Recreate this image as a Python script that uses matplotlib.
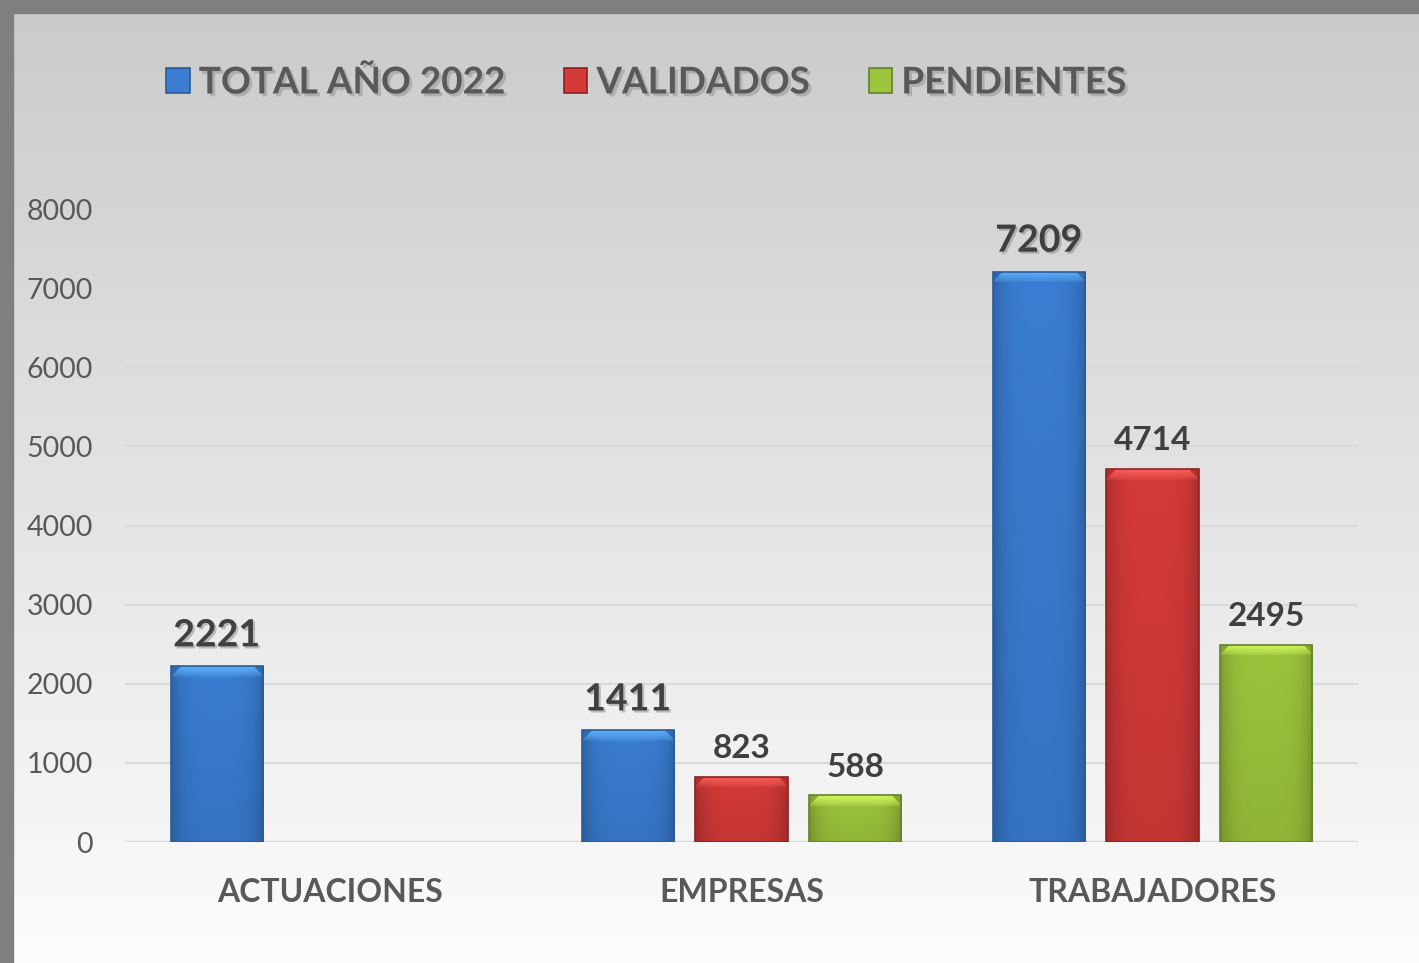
import numpy as np
import matplotlib.pyplot as plt
import matplotlib.patheffects as pe
from matplotlib.patches import Rectangle
from matplotlib.colors import to_rgb

# data
categories = ['ACTUACIONES', 'EMPRESAS', 'TRABAJADORES']
series_names = ['TOTAL AÑO 2022', 'VALIDADOS', 'PENDIENTES']
total_2022 = [2221, 1411, 7209]
validados = [np.nan, 823, 4714]
pendientes = [np.nan, 588, 2495]
y_ticks = [0, 1000, 2000, 3000, 4000, 5000, 6000, 7000, 8000]

series = [total_2022, validados, pendientes]
colors = ['#3A7DD2', '#D43A38', '#9CC43C']
edges = ['#2A5C96', '#8E2220', '#62822A']

plt.rcParams['font.family'] = ['Lato', 'DejaVu Sans']

fig = plt.figure(figsize=(14.19, 9.63), dpi=100)

# background: vertical grey gradient plus dark top/left border
bg = fig.add_axes([0, 0, 1, 1], zorder=-10)
grad = np.linspace(0.79, 0.985, 256).reshape(-1, 1)
bg.imshow(np.repeat(grad, 2, axis=1), cmap='gray', vmin=0, vmax=1,
          aspect='auto', extent=[0, 1, 1, 0])
bg.add_patch(Rectangle((0, 0), 1, 13 / 963, color='#7F7F7F'))
bg.add_patch(Rectangle((0, 0), 13 / 1419, 1, color='#7F7F7F'))
bg.set_xlim(0, 1)
bg.set_ylim(1, 0)
bg.axis('off')

ax = fig.add_axes([125 / 1419, 1 - 842 / 963, 1233 / 1419, 633 / 963])
ax.patch.set_visible(False)

x = np.arange(len(categories))
width = 0.224
step = 0.277


def shade_bar(ax, patch, color):
    x0, y0 = patch.get_x(), patch.get_y()
    w, h = patch.get_width(), patch.get_height()
    if not np.isfinite(h) or h <= 0:
        return
    hp = max(int(h / 8000 * 633), 2)
    wp = 92
    base = np.array(to_rgb(color))
    xs = np.linspace(-1, 1, wp)
    horiz = 1.0 - 0.2 * np.abs(xs) ** 4
    vert = np.linspace(1.0, 0.92, hp)
    img = base[None, None, :] * horiz[None, :, None] * vert[:, None, None]
    # lighter bevel at the top, fading downwards
    bev = min(11, hp)
    light = np.clip(base * 1.2 + 0.12, 0, 1)
    for r in range(bev):
        cut = int((bev - r) * 0.9)
        lo, hi = cut, wp - cut
        a = 0.85 * (1 - r / bev) ** 0.7
        img[r, lo:hi] = img[r, lo:hi] * (1 - a) + light * a
    img = np.clip(img, 0, 1)
    im = ax.imshow(img, extent=[x0, x0 + w, y0, y0 + h], aspect='auto',
                   origin='upper', zorder=3, interpolation='bilinear')
    im.set_clip_path(patch)


containers = []
for i, (vals, c, ec) in enumerate(zip(series, colors, edges)):
    bars = ax.bar(x + (i - 1) * step, vals, width, color=c, edgecolor=ec,
                  linewidth=1.2, zorder=2, label=series_names[i])
    containers.append(bars)
    for p in bars:
        shade_bar(ax, p, c)
    for p in bars:
        p.set_zorder(4)
        p.set_facecolor('none')

shadow = [pe.withSimplePatchShadow(offset=(1.5, -1.5), shadow_rgbFace='#888888', alpha=0.5)]
for i, (bars, vals) in enumerate(zip(containers, series)):
    labels = ['' if np.isnan(v) else f'{int(v)}' for v in vals]
    for p, lab in zip(bars, labels):
        if not lab:
            continue
        first = (i == 0)
        ax.annotate(lab, (p.get_x() + p.get_width() / 2, p.get_height()),
                    xytext=(0, 10), textcoords='offset points', ha='center',
                    va='bottom', fontsize=27 if first else 24, fontweight='bold',
                    color='#404040', zorder=6,
                    path_effects=shadow if first else None)

ax.set_xlim(-0.5, 2.5)
ax.set_ylim(0, 8000)
ax.set_yticks(y_ticks)
ax.set_yticklabels([str(t) for t in y_ticks])
ax.set_xticks(x)
ax.set_xticklabels(categories, fontsize=23, fontweight='bold', color='#595959')
ax.tick_params(axis='y', labelsize=20.5, labelcolor='#595959', length=0, pad=23)
ax.tick_params(axis='x', length=0, pad=26)
ax.grid(axis='y', color='#D9D9D9', linewidth=1.5, zorder=0)
ax.set_axisbelow(True)
for s in ax.spines.values():
    s.set_visible(False)
ax.axhline(0, color='#D9D9D9', linewidth=1.5, zorder=1)

handles = [Rectangle((0, 0), 1, 1, facecolor=c, edgecolor=ec, linewidth=1.2)
           for c, ec in zip(colors, edges)]
leg = fig.legend(handles, series_names, loc='center left',
                 bbox_to_anchor=(133 / 1419, 1 - 83 / 963), ncol=3, frameon=False,
                 handlelength=0.63, handleheight=0.63, handletextpad=0.25,
                 columnspacing=1.6, prop={'size': 26.6, 'weight': 'bold'})
for t in leg.get_texts():
    t.set_color('#595959')
    t.set_path_effects([pe.withSimplePatchShadow(offset=(2, -2), shadow_rgbFace='#999999', alpha=0.6)])

fig.savefig('out.png', dpi=100)
